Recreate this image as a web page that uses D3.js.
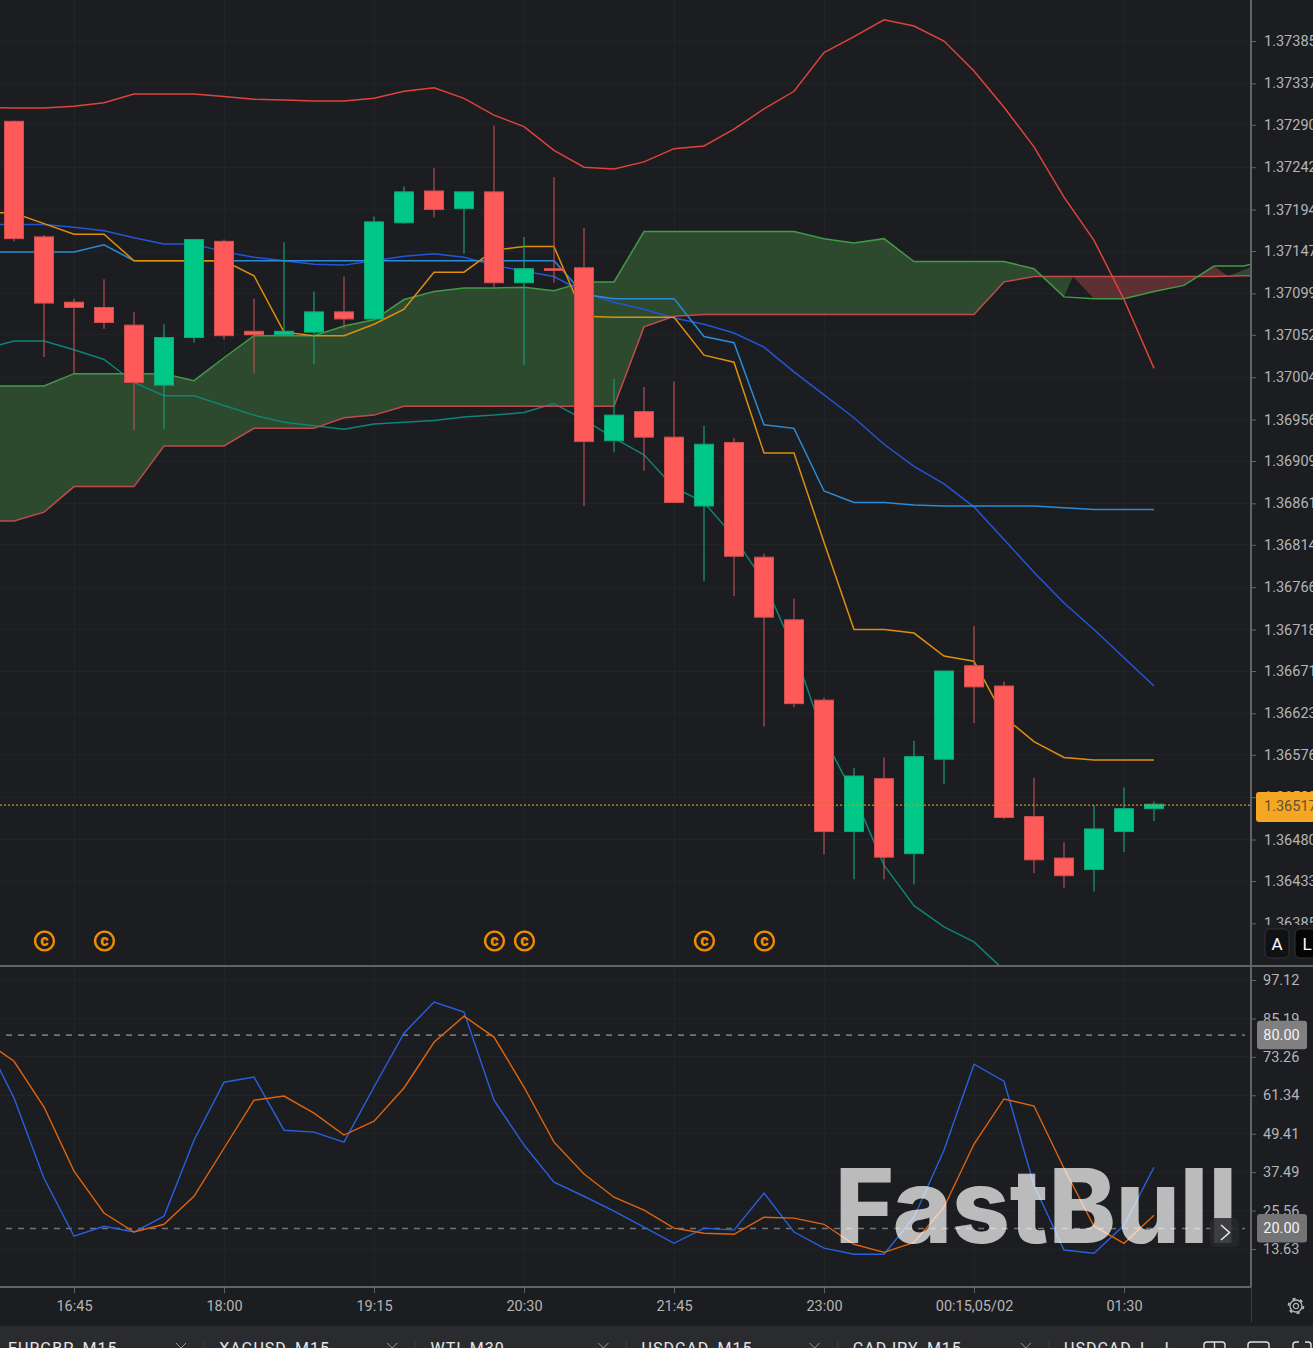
<!DOCTYPE html>
<html>
<head>
<meta charset="utf-8">
<title>USDCAD M15</title>
<script src="https://cdn.jsdelivr.net/npm/d3@7"></script>
<style>
    html, body { margin: 0; padding: 0; background: #1c1d21; overflow: hidden; }
    svg { display: block; font-family: Roboto, sans-serif; }
    .axis path { display: none; }
    .axis line { stroke: #616367; }
    .axis text { fill: #b4b5b7; font-size: 14.5px; font-family: Roboto, sans-serif; }
</style>
</head>
<body>
<svg id="chart" width="1313" height="1348"></svg>
<script>
// candles, index 0 is the first bar on screen
var opens = [1.37294,1.37163,1.37089,1.37083,1.37063,1.36995,1.37049,1.37158,1.37056,1.37052,1.37055,1.37078,1.37070,1.37179,1.37215,1.37195,1.37214,1.37111,1.37127,1.37128,1.36932,1.36965,1.36936,1.36858,1.36930,1.36800,1.36729,1.36638,1.36489,1.36549,1.36464,1.36571,1.36677,1.36654,1.36506,1.36459,1.36446,1.36489,1.36515];
var highs = [1.37295,1.37165,1.37093,1.37115,1.37078,1.37064,1.37161,1.37160,1.37093,1.37157,1.37101,1.37118,1.37186,1.37220,1.37241,1.37215,1.37289,1.37163,1.37231,1.37173,1.37002,1.36993,1.36999,1.36949,1.36935,1.36804,1.36753,1.36641,1.36561,1.36573,1.36592,1.36672,1.36722,1.36659,1.36550,1.36477,1.36519,1.36539,1.36523];
var lows = [1.37158,1.37027,1.37008,1.37059,1.36944,1.36945,1.37043,1.37047,1.37009,1.37051,1.37019,1.37059,1.37069,1.37178,1.37185,1.37144,1.37105,1.37018,1.37111,1.36858,1.36919,1.36898,1.36861,1.36773,1.36756,1.36608,1.36630,1.36463,1.36435,1.36435,1.36429,1.36543,1.36612,1.36503,1.36442,1.36425,1.36421,1.36466,1.36501];
var closes = [1.37161,1.37088,1.37083,1.37066,1.36998,1.37049,1.37160,1.37051,1.37052,1.37056,1.37078,1.37070,1.37180,1.37214,1.37194,1.37214,1.37111,1.37127,1.37125,1.36931,1.36961,1.36936,1.36862,1.36928,1.36801,1.36732,1.36634,1.36489,1.36552,1.36460,1.36574,1.36671,1.36653,1.36505,1.36457,1.36439,1.36492,1.36515,1.36520];

// indicator lines start one bar before the first candle (index -1)
var bollUpper = [1.37310,1.37309,1.37309,1.37311,1.37315,1.37325,1.37325,1.37325,1.37322,1.37319,1.37318,1.37317,1.37317,1.37320,1.37328,1.37332,1.37320,1.37301,1.37288,1.37261,1.37242,1.37240,1.37248,1.37263,1.37266,1.37285,1.37308,1.37328,1.37372,1.37390,1.37409,1.37402,1.37385,1.37351,1.37310,1.37265,1.37208,1.37159,1.37092,1.37014];
var kijun = [1.37177,1.37177,1.37177,1.37174,1.37170,1.37162,1.37155,1.37155,1.37146,1.37140,1.37136,1.37132,1.37131,1.37136,1.37141,1.37144,1.37140,1.37131,1.37124,1.37118,1.37100,1.37089,1.37081,1.37071,1.37064,1.37054,1.37038,1.37010,1.36984,1.36958,1.36928,1.36903,1.36883,1.36857,1.36820,1.36783,1.36748,1.36718,1.36686,1.36654];
var maSlow = [1.37146,1.37146,1.37146,1.37146,1.37154,1.37136,1.37136,1.37136,1.37136,1.37136,1.37136,1.37136,1.37136,1.37136,1.37136,1.37136,1.37136,1.37136,1.37136,1.37136,1.37098,1.37093,1.37093,1.37093,1.37050,1.37043,1.36950,1.36946,1.36875,1.36862,1.36862,1.36859,1.36858,1.36858,1.36858,1.36858,1.36856,1.36854,1.36854,1.36854];
var tenkan = [1.37191,1.37190,1.37178,1.37166,1.37166,1.37136,1.37136,1.37136,1.37136,1.37119,1.37055,1.37051,1.37051,1.37064,1.37081,1.37123,1.37123,1.37148,1.37152,1.37152,1.37073,1.37072,1.37072,1.37072,1.37029,1.37021,1.36918,1.36918,1.36817,1.36718,1.36718,1.36714,1.36688,1.36682,1.36619,1.36591,1.36573,1.36570,1.36570,1.36570];
var chikou = [1.37036,1.37045,1.37045,1.37035,1.37024,1.36998,1.36983,1.36983,1.36972,1.36961,1.36953,1.36949,1.36945,1.36951,1.36953,1.36955,1.36959,1.36961,1.36964,1.36974,1.36956,1.36935,1.36916,1.36879,1.36862,1.36823,1.36772,1.36695,1.36596,1.36530,1.36451,1.36405,1.36381,1.36364,1.36332];
var spanA = [1.36994,1.36994,1.36994,1.37008,1.37008,1.37008,1.37008,1.37000,1.37026,1.37051,1.37051,1.37051,1.37062,1.37069,1.37092,1.37101,1.37105,1.37105,1.37106,1.37102,1.37112,1.37112,1.37169,1.37169,1.37169,1.37169,1.37169,1.37169,1.37161,1.37156,1.37161,1.37135,1.37135,1.37135,1.37135,1.37127,1.37095,1.37093,1.37093,1.37101,1.37108,1.37130,1.37130,1.37139];
var spanB = [1.36841,1.36841,1.36851,1.36880,1.36880,1.36880,1.36926,1.36926,1.36926,1.36946,1.36946,1.36946,1.36958,1.36961,1.36971,1.36971,1.36971,1.36971,1.36971,1.36971,1.36971,1.36971,1.37061,1.37073,1.37075,1.37075,1.37075,1.37075,1.37075,1.37075,1.37075,1.37075,1.37075,1.37075,1.37112,1.37118,1.37118,1.37118,1.37118,1.37118,1.37118,1.37118,1.37119,1.37119];
// white line, stops at 19:15
var closeOverlay = [1.37748,1.37638,1.37491,1.37554,1.37462,1.37573,1.37673,1.37656,1.37507,1.37461,1.37440,1.37492,1.37516,1.37521];
var stochK = [79.1,60.5,35.6,17.6,20.7,18.9,23.8,47.4,65.4,67.0,50.5,49.9,46.8,63.9,80.6,90.3,87.2,59.8,45.9,34.4,30.0,25.4,20.4,15.4,20.1,19.5,31.0,18.9,13.9,12.0,12.0,23.5,44.3,71.0,65.7,33.4,13.3,12.3,21.0,39.0];
var stochD = [78.5,71.9,57.7,37.8,24.8,18.9,21.3,30.0,44.9,59.8,61.1,55.8,49.0,53.3,63.6,77.8,85.9,79.4,63.9,46.8,36.9,29.7,25.7,20.1,18.5,18.2,23.5,23.2,21.3,15.1,12.6,15.7,26.6,46.2,60.2,58.0,38.7,20.7,15.4,24.1];

// where the cloud edges cross on the right hand side, as bar index
var cloudEnd = 34.29;
var cloudTail = [
    {up: true, verts: [['A', 34.29], ['A', 35], ['B', 35.3]]},
    {up: false, verts: [['B', 35.3], ['A', 36], ['A', 37], ['A', 38], ['A', 39], ['A', 39.42]]},
    {up: false, verts: [['A', 39.42], ['A', 40], ['B', 40.47]]},
    {up: true, verts: [['B', 40.47], ['A', 42], ['B', 42]]}
];

var priceLabels = ['1.37385','1.37337','1.37290','1.37242','1.37194','1.37147','1.37099','1.37052','1.37004','1.36956','1.36909','1.36861','1.36814','1.36766','1.36718','1.36671','1.36623','1.36576','1.36528','1.36480','1.36433','1.36385'];
var stochLabels = ['97.12','85.19','73.26','61.34','49.41','37.49','25.56','13.63'];
var timeBars = [2, 7, 12, 17, 22, 27, 32, 37];
var timeLabels = ['16:45','18:00','19:15','20:30','21:45','23:00','00:15,05/02','01:30'];
var dividendBars = [1, 3, 16, 17, 23, 25];
var stochLevels = [80, 20];
var linePrice = 1.36519;
var lastPriceLabel = '1.36517';
var tabs = ['EURGBP_M15','XAGUSD_M15','WTI_M30','USDCAD_M15','CADJPY_M15','USDCAD_L\u00a0\u00a0\u00a0I'];

var svg = d3.select('#chart');
var bg = '#1c1d21', gridColor = '#212327', axisColor = '#616367';

var x = d3.scaleLinear().domain([0, 1]).range([14, 44]);
var y = d3.scaleLinear().domain([1.37385, 1.36433]).range([41, 881]);
var yStoch = d3.scaleLinear().domain([97.12, 13.63]).range([980, 1249]);

var defs = svg.append('defs');
defs.append('clipPath').attr('id', 'clipMain').append('rect').attr('width', 1250).attr('height', 965);
defs.append('clipPath').attr('id', 'clipStoch').append('rect').attr('y', 967).attr('width', 1250).attr('height', 319);
defs.append('clipPath').attr('id', 'clipPriceAxis').append('rect').attr('width', 80).attr('height', 925);
defs.append('clipPath').attr('id', 'clipTabs').append('rect').attr('y', 1326).attr('width', 1313).attr('height', 22);

svg.append('rect').attr('width', 1313).attr('height', 1348).attr('fill', bg);

// grid
var priceTicks = priceLabels.map(Number);
var stochTicks = stochLabels.map(Number);
var grid = svg.append('g').attr('stroke', gridColor).attr('stroke-width', 1).attr('shape-rendering', 'crispEdges');
grid.selectAll('.h').data(priceTicks.slice(0, -1)).enter().append('line')
    .attr('x1', 0).attr('x2', 1250).attr('y1', d => y(d)).attr('y2', d => y(d));
grid.selectAll('.s').data(stochTicks).enter().append('line')
    .attr('x1', 0).attr('x2', 1250).attr('y1', d => yStoch(d)).attr('y2', d => yStoch(d));
grid.selectAll('.v').data(timeBars).enter().append('line')
    .attr('x1', d => x(d)).attr('x2', d => x(d)).attr('y1', 0).attr('y2', 1286);

// main pane
var main = svg.append('g').attr('clip-path', 'url(#clipMain)');

function edgeAt(series, i) {
    var k = i + 1, a = Math.floor(k), t = k - a;
    return t === 0 ? series[a] : series[a] + (series[a + 1] - series[a]) * t;
}
function points(series) {
    return series.map((v, k) => [k - 1, v]);
}
var line = d3.line().x(d => x(d[0])).y(d => y(d[1]));

var cloudIdx = d3.range(-1, Math.floor(cloudEnd) + 1).concat([cloudEnd]);
main.append('path')
    .attr('fill', '#2d4a2f')
    .attr('d', d3.area().x(i => x(i)).y0(i => y(edgeAt(spanA, i))).y1(i => y(edgeAt(spanB, i)))(cloudIdx));
main.selectAll('.tail').data(cloudTail).enter().append('path')
    .attr('fill', d => d.up ? '#2d4a2f' : '#5e3034')
    .attr('d', d => line(d.verts.map(v => [v[1], edgeAt(v[0] === 'A' ? spanA : spanB, v[1])])) + 'Z');

var series = [
    {vals: chikou, color: '#0c8577'},
    {vals: spanB, color: '#c04b4a'},
    {vals: spanA, color: '#419a45'},
    {vals: bollUpper, color: '#e0423c'},
    {vals: kijun, color: '#2356d6'},
    {vals: maSlow, color: '#2a8cd6'},
    {vals: tenkan, color: '#de8f0c'},
    {vals: closeOverlay, color: '#ffffff'}
];
main.selectAll('.series').data(series).enter().append('path')
    .attr('fill', 'none')
    .attr('stroke', d => d.color)
    .attr('stroke-width', 1.5)
    .attr('d', d => line(points(d.vals)));

// candles
var bars = d3.range(opens.length).map(i => ({i: i, o: opens[i], h: highs[i], l: lows[i], c: closes[i]}));
var candle = main.selectAll('.candle').data(bars).enter().append('g');
candle.append('line')
    .attr('x1', d => x(d.i)).attr('x2', d => x(d.i))
    .attr('y1', d => y(d.h)).attr('y2', d => y(d.l))
    .attr('stroke', d => d.c >= d.o ? '#169c77' : '#b5504f')
    .attr('stroke-width', 1.2);
candle.append('rect')
    .attr('x', d => x(d.i) - 9.5).attr('width', 19)
    .attr('y', d => y(Math.max(d.o, d.c)))
    .attr('height', d => Math.max(0.5, Math.abs(y(d.o) - y(d.c))))
    .attr('fill', d => d.c >= d.o ? '#00c987' : '#ff5a5a')
    .attr('stroke', d => d.c >= d.o ? '#12a67a' : '#cf5050')
    .attr('stroke-width', 1);

// last price line
svg.append('line')
    .attr('x1', 0).attr('x2', 1250).attr('y1', y(linePrice)).attr('y2', y(linePrice))
    .attr('stroke', '#d08e1e').attr('stroke-width', 1.2).attr('stroke-dasharray', '2 2');

// dividend marks
var marks = svg.selectAll('.mark').data(dividendBars).enter().append('g')
    .attr('transform', d => 'translate(' + (x(d) + 0.5) + ',941)');
marks.append('circle').attr('r', 9.4).attr('fill', 'none').attr('stroke', '#f08c00').attr('stroke-width', 2.4);
marks.append('text').text('c').attr('text-anchor', 'middle').attr('y', 5)
    .attr('fill', '#f08c00').attr('font-size', 16).attr('font-weight', 900);

// stochastic pane
var stochPane = svg.append('g').attr('clip-path', 'url(#clipStoch)');
var stochLine = d3.line().x(d => x(d[0])).y(d => yStoch(d[1]));
stochPane.selectAll('.lvl').data(stochLevels).enter().append('line')
    .attr('x1', 6).attr('x2', 1245).attr('y1', d => yStoch(d)).attr('y2', d => yStoch(d))
    .attr('stroke', '#727375').attr('stroke-width', 1.6).attr('stroke-dasharray', '6 6');
stochPane.append('path').attr('fill', 'none').attr('stroke', '#2860e0').attr('stroke-width', 1.4)
    .attr('d', stochLine(points(stochK)));
stochPane.append('path').attr('fill', 'none').attr('stroke', '#e0640c').attr('stroke-width', 1.4)
    .attr('d', stochLine(points(stochD)));

// axes
var axisPrice = d3.axisRight(y).tickValues(priceTicks).tickFormat((d, k) => priceLabels[k]).tickSize(5).tickPadding(8);
svg.append('g').attr('class', 'axis').attr('clip-path', 'url(#clipPriceAxis)')
    .attr('transform', 'translate(1251,0)').call(axisPrice);
var axisStoch = d3.axisRight(yStoch).tickValues(stochTicks).tickFormat((d, k) => stochLabels[k]).tickSize(5).tickPadding(7);
svg.append('g').attr('class', 'axis').attr('transform', 'translate(1251,0)').call(axisStoch);
var axisTime = d3.axisBottom(x).tickValues(timeBars).tickFormat((d, k) => timeLabels[k]).tickSize(6).tickPadding(8);
svg.append('g').attr('class', 'axis').attr('transform', 'translate(0,1287)').call(axisTime);

var frame = svg.append('g').attr('stroke', axisColor).attr('shape-rendering', 'crispEdges');
frame.append('line').attr('x1', 0).attr('x2', 1313).attr('y1', 966).attr('y2', 966).attr('stroke-width', 1.5);
frame.append('line').attr('x1', 0).attr('x2', 1251).attr('y1', 1287).attr('y2', 1287).attr('stroke-width', 1.5);
frame.append('line').attr('x1', 1251).attr('x2', 1251).attr('y1', 0).attr('y2', 1287).attr('stroke-width', 1.5);
frame.append('line').attr('x1', 1251).attr('x2', 1251).attr('y1', 1287).attr('y2', 1322).attr('stroke', '#3c3e42');

// value tags on the right
svg.append('rect').attr('x', 1256).attr('y', 792).attr('width', 60).attr('height', 30).attr('rx', 3).attr('fill', '#f5a623');
svg.append('text').attr('x', 1264).attr('y', 811).attr('font-size', 14.5).attr('fill', '#5f5232').text(lastPriceLabel);
svg.selectAll('.tag').data(stochLevels).enter().append('rect')
    .attr('x', 1257).attr('width', 50).attr('height', 28.5).attr('rx', 3)
    .attr('y', d => yStoch(d) - 14.5)
    .attr('fill', d => d === 80 ? '#808080' : '#747474');
svg.selectAll('.tagText').data(stochLevels).enter().append('text')
    .attr('x', 1281.5).attr('y', d => yStoch(d) + 4.5).attr('text-anchor', 'middle')
    .attr('font-size', 14.5).attr('fill', '#f2f2f2').text(d => d.toFixed(2));

// A / L buttons
var btns = svg.selectAll('.btn').data(['A', 'L']).enter().append('g')
    .attr('transform', (d, k) => 'translate(' + (1265 + k * 30) + ',929)');
btns.append('rect').attr('width', 24).attr('height', 29).attr('rx', 5)
    .attr('fill', (d, k) => k ? '#050506' : '#101113').attr('stroke', '#303236');
btns.append('text').text(d => d).attr('x', 12).attr('y', 20.5).attr('text-anchor', 'middle')
    .attr('font-size', 17).attr('fill', '#ffffff');

// watermark
svg.append('text').text('FastBull')
    .attr('x', 835).attr('y', 1243)
    .attr('textLength', 402).attr('lengthAdjust', 'spacingAndGlyphs')
    .attr('font-family', 'Inter, sans-serif').attr('font-weight', 800).attr('font-size', 103)
    .attr('fill', '#ffffff').attr('fill-opacity', 0.7);

// scroll button
svg.append('rect').attr('x', 1210).attr('y', 1218).attr('width', 29).attr('height', 29).attr('rx', 5)
    .attr('fill', '#26282c').attr('fill-opacity', 0.85);
svg.append('path').attr('d', 'M1221,1225L1229.5,1232.5L1221,1240').attr('fill', 'none').attr('stroke', '#f0f0f0').attr('stroke-width', 1.4);

// gear
var gear = svg.append('g').attr('transform', 'translate(1296,1306)').attr('fill', 'none').attr('stroke', '#b4b5b7');
gear.append('circle').attr('r', 2.6).attr('stroke-width', 1.3);
gear.append('circle').attr('r', 6).attr('stroke-width', 1.3);
gear.append('circle').attr('r', 7.4).attr('stroke-width', 1.8).attr('stroke-dasharray', '3.2 4.55');

// tab bar
svg.append('rect').attr('y', 1326).attr('width', 1313).attr('height', 22).attr('fill', '#2a2b2f');
var tabG = svg.append('g').attr('clip-path', 'url(#clipTabs)');
var tab = tabG.selectAll('.tab').data(tabs).enter().append('g')
    .attr('transform', (d, k) => 'translate(' + (8 + k * 211.2) + ',0)');
tab.append('text').text(d => d).attr('y', 1354).attr('font-size', 16).attr('letter-spacing', 1).attr('fill', '#e6e6e6');
tab.filter((d, k) => k < 5).append('path')
    .attr('d', 'M168,1343L178,1353M178,1343L168,1353')
    .attr('stroke', '#9a9b9d').attr('stroke-width', 1);
tab.filter((d, k) => k < 5).append('line')
    .attr('x1', 196).attr('x2', 196).attr('y1', 1340).attr('y2', 1348).attr('stroke', '#3a3b3f');
var tabIcons = tabG.append('g').attr('fill', 'none').attr('stroke', '#e0e0e0').attr('stroke-width', 1.4);
tabIcons.append('rect').attr('x', 1204).attr('y', 1342).attr('width', 21).attr('height', 14).attr('rx', 3);
tabIcons.append('line').attr('x1', 1214.5).attr('x2', 1214.5).attr('y1', 1342).attr('y2', 1348);
tabIcons.append('rect').attr('x', 1248).attr('y', 1342).attr('width', 21).attr('height', 14).attr('rx', 3);
tabIcons.append('path').attr('d', 'M1299,1342H1296Q1293,1342 1293,1345V1348M1305,1342H1308Q1311,1342 1311,1345V1348');
</script>
</body>
</html>
